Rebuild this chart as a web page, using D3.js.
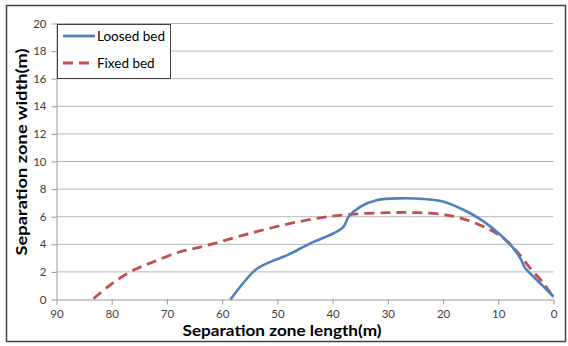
<!DOCTYPE html>
<html><head><meta charset="utf-8">
<script src="https://cdn.jsdelivr.net/npm/d3@7"></script>
<style>body{margin:0;background:#fff}svg{display:block}</style>
</head><body>
<script>
const seriesNames = ["Loosed bed", "Fixed bed"];
const loosedX = [58.5, 54, 51.9, 48.2, 44.0, 39.8, 38.0, 37.1, 35.0, 31.9, 27.7, 22.9, 19.9, 15.6, 12.6, 9.6, 7.5, 6.0, 5.1, 3.6, 1.8, 0];
const loosedY = [0, 2.14, 2.62, 3.22, 4.07, 4.80, 5.28, 6.0, 6.72, 7.21, 7.33, 7.26, 7.09, 6.36, 5.64, 4.67, 3.83, 2.99, 2.26, 1.65, 0.93, 0.2];
const fixedX = [83.3, 80.3, 76.6, 72.4, 67.6, 64.0, 60.3, 54.9, 48.9, 42.8, 36.8, 30.1, 24.7, 19.3, 15.7, 12.0, 9.0, 6.6, 4.2, 1.8, 0];
const fixedY = [0.05, 1.05, 2.01, 2.74, 3.46, 3.80, 4.19, 4.80, 5.40, 5.88, 6.17, 6.29, 6.29, 6.12, 5.76, 5.16, 4.43, 3.46, 2.26, 1.17, 0.15];
const xTicks = [90, 80, 70, 60, 50, 40, 30, 20, 10, 0];
const yTicks = [0, 2, 4, 6, 8, 10, 12, 14, 16, 18, 20];

const W = 568, H = 346;
const svg = d3.select("body").append("svg").attr("width", W).attr("height", H);
const font = "Lato, 'Open Sans', sans-serif";

svg.append("rect").attr("x", 6.5).attr("y", 5.5).attr("width", 559).attr("height", 336)
  .attr("fill", "#fff").attr("stroke", "#404040").attr("stroke-width", 1.5);

const x = d3.scaleLinear().domain([90, 0]).range([56.5, 553.5]);
const y = d3.scaleLinear().domain([0, 20]).range([299.5, 23.5]);

// gridlines
svg.append("g").selectAll("line").data(yTicks.filter(d => d > 0)).join("line")
  .attr("x1", x(90)).attr("x2", x(0)).attr("y1", d => y(d)).attr("y2", d => y(d))
  .attr("stroke", "#b8b8b8").attr("stroke-width", 1);

// axes
const xAxis = svg.append("g").attr("transform", `translate(0,${y(0)})`)
  .call(d3.axisBottom(x).tickValues(xTicks).tickSize(5).tickSizeOuter(0).tickPadding(5));
const yAxis = svg.append("g").attr("transform", `translate(${x(90)},0)`)
  .call(d3.axisLeft(y).tickValues(yTicks).tickSize(5).tickSizeOuter(0).tickPadding(5));
[xAxis, yAxis].forEach(g => {
  g.select(".domain").attr("stroke", "#9a9a9a");
  g.selectAll(".tick line").attr("stroke", "#9a9a9a");
  g.selectAll("text").attr("fill", "#404040").style("font-family", font).style("font-size", "11.5px");
});

const line = d3.line().x(d => x(d[0])).y(d => y(d[1])).curve(d3.curveCatmullRom.alpha(0.5));
const loosed = loosedX.map((v, i) => [v, loosedY[i]]);
const fixed = fixedX.map((v, i) => [v, fixedY[i]]);

svg.append("path").datum(fixed).attr("d", line).attr("fill", "none")
  .attr("stroke", "#c0504d").attr("stroke-width", 2.8).attr("stroke-dasharray", "10,6");
svg.append("path").datum(loosed).attr("d", line).attr("fill", "none")
  .attr("stroke", "#4f81bd").attr("stroke-width", 2.6);

// axis titles
svg.append("text").attr("x", 282).attr("y", 336).attr("text-anchor", "middle")
  .style("font-family", font).style("font-weight", "bold").style("font-size", "15px").attr("fill", "#000")
  .attr("textLength", 199).attr("lengthAdjust", "spacingAndGlyphs")
  .text("Separation zone length(m)");
svg.append("text").attr("transform", "translate(27,152) rotate(-90)").attr("text-anchor", "middle")
  .style("font-family", font).style("font-weight", "bold").style("font-size", "15.5px").attr("fill", "#000")
  .attr("textLength", 207).attr("lengthAdjust", "spacingAndGlyphs")
  .text("Separation zone width(m)");

// legend
const lg = svg.append("g");
lg.append("rect").attr("x", 57.5).attr("y", 24.5).attr("width", 113).attr("height", 54)
  .attr("fill", "#fff").attr("stroke", "#404040").attr("stroke-width", 1);
const colors = ["#4f81bd", "#c0504d"];
const dashes = [null, "10,6"];
seriesNames.forEach((n, i) => {
  const yy = 36 + i * 27;
  lg.append("line").attr("x1", 63).attr("x2", 95).attr("y1", yy).attr("y2", yy)
    .attr("stroke", colors[i]).attr("stroke-width", 2.8).attr("stroke-dasharray", dashes[i]);
  lg.append("text").attr("x", 97).attr("y", yy + 4.5).style("font-family", font).style("font-size", "13.5px")
    .attr("fill", "#000").text(n);
});
</script>
</body></html>
